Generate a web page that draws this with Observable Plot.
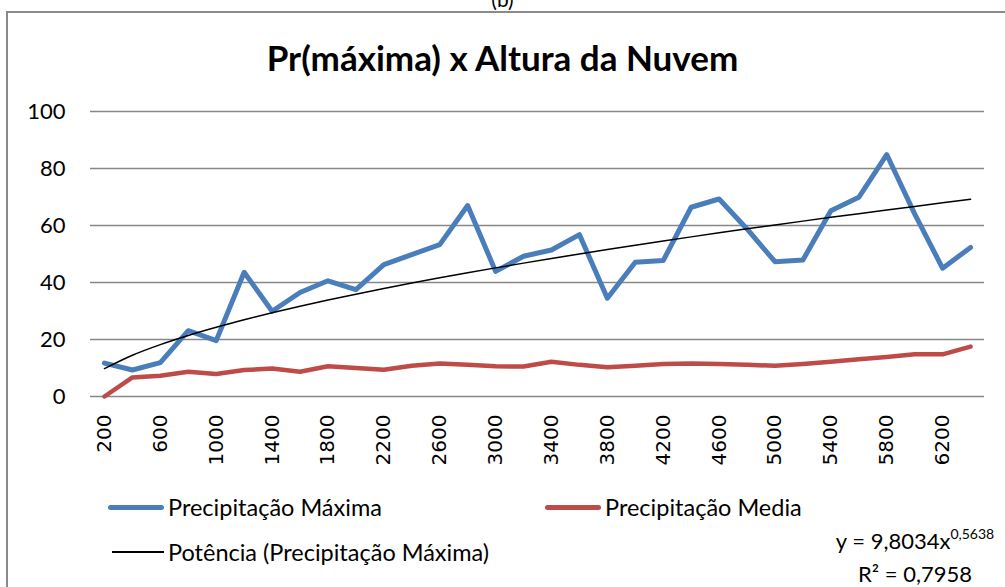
<!DOCTYPE html>
<html>
<head>
<meta charset="utf-8">
<script src="https://cdn.jsdelivr.net/npm/d3@7"></script>
<script src="https://cdn.jsdelivr.net/npm/@observablehq/plot@0.6"></script>
<style>
  html, body { margin: 0; padding: 0; width: 1005px; height: 587px; overflow: hidden; background: #fff; }
  .abs { position: absolute; }
  #frame { left: 6px; top: 11px; width: 1010px; height: 600px; border: 2px solid #8a8a8a; box-sizing: border-box; }
  #tag { left: 0; width: 1005px; top: -13px; text-align: center; font: 21px Lato, sans-serif; color: #000; line-height: 24px; }
  #title { left: 0; width: 1005px; top: 35px; text-align: center; font: bold 35px Lato, sans-serif; color: #000; line-height: 44px; }
  .leg { font: 23.5px Lato, sans-serif; color: #000; white-space: nowrap; line-height: 28px; display: flex; align-items: center; }
  .sw { display: inline-block; width: 56px; margin-right: 4px; border-radius: 3px; }
  .eq { left: 815px; width: 200px; text-align: center; font: 22px Lato, sans-serif; line-height: 26px; color: #000; white-space: nowrap; }
  .eq sup { font-size: 14px; line-height: 0; vertical-align: 0; position: relative; top: -10px; }
</style>
</head>
<body>
<div id="frame" class="abs"></div>
<div id="tag" class="abs">(b)</div>
<div id="chart" class="abs" style="left:0;top:0"></div>
<div id="title" class="abs">Pr(máxima) x Altura da Nuvem</div>
<div class="abs leg" style="left:108px; top:493px;"><span class="sw" style="height:5px;background:#4A7EBB"></span>Precipitação Máxima</div>
<div class="abs leg" style="left:545px; top:493px;"><span class="sw" style="height:5px;background:#BE4B48"></span>Precipitação Media</div>
<div class="abs leg" style="left:112px; top:538px;"><span class="sw" style="height:2px;width:52px;background:#000;border-radius:0"></span>Potência (Precipitação Máxima)</div>
<div class="abs eq" style="top:528px;">y = 9,8034x<sup>0,5638</sup></div>
<div class="abs eq" style="top:561px;">R² = 0,7958</div>
<script>
// Cloud height categories (x axis)
const alturas = [200,400,600,800,1000,1200,1400,1600,1800,2000,2200,2400,2600,2800,3000,3200,
                 3400,3600,3800,4000,4200,4400,4600,4800,5000,5200,5400,5600,5800,6000,6200,6400];
// Precipitação Máxima
const precMax = [11.7,9.3,11.9,23.1,19.6,43.6,29.9,36.5,40.6,37.5,46.3,49.8,53.3,67.0,43.9,49.2,
                 51.4,56.8,34.5,47.1,47.7,66.4,69.3,58.8,47.3,47.9,65.2,69.9,84.9,64.1,45.0,52.3];
// Precipitação Media
const precMed = [0.0,6.7,7.3,8.7,7.9,9.3,9.8,8.7,10.6,10.0,9.4,10.8,11.6,11.1,10.6,10.5,
                 12.2,11.1,10.3,10.8,11.4,11.6,11.4,11.1,10.8,11.4,12.2,13.1,13.9,14.8,14.8,17.5];
// Trendline coefficients as printed on the chart (power: y = a·x^b, x = category index)
const trendA = 9.8034, trendB = 0.5638;
const yTicks = [0, 20, 40, 60, 80, 100];

const idx = alturas.map((_, i) => i + 1);
const maxData = idx.map((k, i) => ({k, v: precMax[i]}));
const medData = idx.map((k, i) => ({k, v: precMed[i]}));
const trendData = idx.map(k => ({k, v: trendA * Math.pow(k, trendB)}));
const xTicks = idx.filter(k => k % 2 === 1);

const chart = Plot.plot({
  width: 1005,
  height: 480,
  marginLeft: 90,
  marginRight: 21,
  marginTop: 111,
  marginBottom: 84,
  style: {background: "transparent", overflow: "visible"},
  x: {type: "linear", domain: [0.5, alturas.length + 0.5], label: null},
  y: {domain: [0, 100], label: null},
  marks: [
    Plot.gridY(yTicks, {stroke: "#878787", strokeOpacity: 1, strokeWidth: 1.6}),
    Plot.axisY({ticks: yTicks, label: null, tickSize: 0, tickPadding: 25, fontSize: 22, fontFamily: "Lato, sans-serif", fill: "#000"}),
    Plot.axisX({ticks: xTicks, label: null, tickFormat: k => String(alturas[k - 1]), tickSize: 0, tickPadding: 18,
                tickRotate: -90, fontSize: 20, fontFamily: "DejaVu Sans, sans-serif", fill: "#000"}),
    Plot.lineY(maxData, {x: "k", y: "v", stroke: "#4A7EBB", strokeWidth: 5, strokeLinejoin: "round", strokeLinecap: "round"}),
    Plot.lineY(medData, {x: "k", y: "v", stroke: "#BE4B48", strokeWidth: 4.5, strokeLinejoin: "round", strokeLinecap: "round"}),
    Plot.lineY(trendData, {x: "k", y: "v", stroke: "#000", strokeWidth: 1.5, curve: "monotone-x"})
  ]
});
document.getElementById("chart").appendChild(chart);
</script>
</body>
</html>
